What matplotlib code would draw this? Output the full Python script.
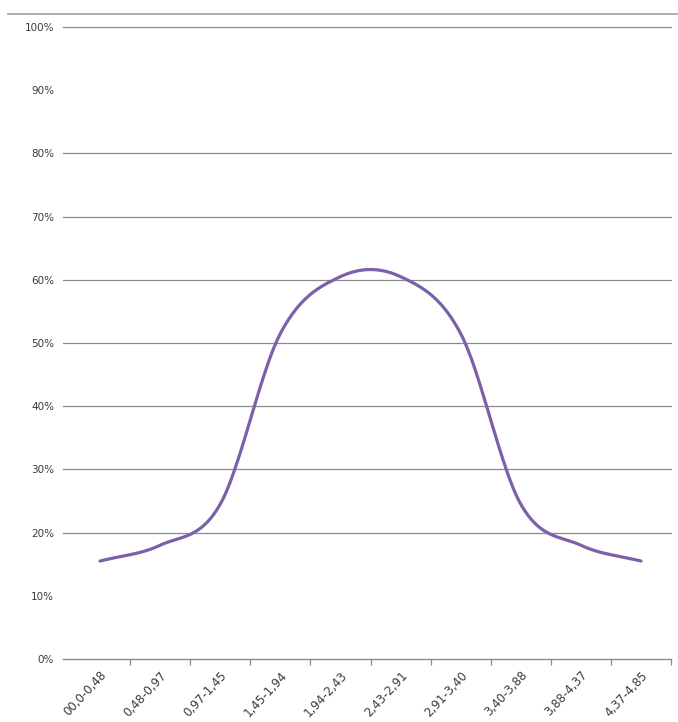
import numpy as np
import matplotlib
matplotlib.use("Agg")
import matplotlib.pyplot as plt
from matplotlib.lines import Line2D

# Share of observations per diameter class
categories = ["00,0-0,48", "0,48-0,97", "0,97-1,45", "1,45-1,94", "1,94-2,43",
              "2,43-2,91", "2,91-3,40", "3,40-3,88", "3,88-4,37", "4,37-4,85"]
values = [15.5, 18.0, 24.5, 51.5, 60.5, 60.5, 51.5, 24.5, 18.0, 15.5]
y_ticks = [0, 10, 20, 30, 40, 50, 60, 70, 80, 90, 100]
y_labels = [f"{v}%" for v in y_ticks]
grid_levels = [20, 30, 40, 50, 60, 70, 80, 100]

LINE_COLOR = "#7b61a8"
GRID_COLOR = "#8a8a8a"
TEXT_COLOR = "#3a3a3a"


def smooth_curve(xs, ys, n=40):
    """Catmull-Rom smoothing through every point (spreadsheet-style smoothed line)."""
    xs = np.asarray(xs, float)
    ys = np.asarray(ys, float)
    px = np.concatenate([[2 * xs[0] - xs[1]], xs, [2 * xs[-1] - xs[-2]]])
    py = np.concatenate([[2 * ys[0] - ys[1]], ys, [2 * ys[-1] - ys[-2]]])
    out_x, out_y = [], []
    for i in range(1, len(px) - 2):
        t = np.linspace(0, 1, n, endpoint=(i == len(px) - 3))
        for arr, out in ((px, out_x), (py, out_y)):
            p0, p1, p2, p3 = arr[i - 1], arr[i], arr[i + 1], arr[i + 2]
            c1 = p1 + (p2 - p0) / 6
            c2 = p2 - (p3 - p1) / 6
            out.extend((1 - t) ** 3 * p1 + 3 * (1 - t) ** 2 * t * c1
                       + 3 * (1 - t) * t ** 2 * c2 + t ** 3 * p2)
    return np.array(out_x), np.array(out_y)


fig = plt.figure(figsize=(6.78, 7.22), dpi=100)
ax = fig.add_axes([63 / 678, 1 - 659 / 722, (671 - 63) / 678, (659 - 27) / 722])

x = np.arange(len(categories))
sx, sy = smooth_curve(x, values)
ax.plot(sx, sy, color=LINE_COLOR, lw=2.3, solid_capstyle="round", zorder=3)

for g in grid_levels:
    ax.axhline(g, color=GRID_COLOR, lw=0.9, zorder=1, clip_on=False)
ax.axhline(0, color=GRID_COLOR, lw=1.0, zorder=1, clip_on=False)

ax.set_xlim(-0.5 - 7 / 60.1, len(categories) - 0.5)
ax.set_ylim(0, 100)

for s in ax.spines.values():
    s.set_visible(False)

ax.set_yticks(y_ticks)
ax.set_yticklabels(y_labels)
ax.tick_params(axis="y", length=0, pad=6.5, labelsize=7.5, labelcolor=TEXT_COLOR)

ax.set_xticks(x)
ax.set_xticklabels(categories, rotation=47, ha="right", va="top",
                   rotation_mode="anchor")
ax.tick_params(axis="x", which="major", length=0, pad=7, labelsize=8.5,
               labelcolor=TEXT_COLOR)
ax.set_xticks(np.arange(0.5, len(categories), 1.0), minor=True)
ax.tick_params(axis="x", which="minor", length=4, width=0.9, color=GRID_COLOR)

# Thin frame line across the top of the chart area
fig.add_artist(Line2D([8 / 678, 1.0], [1 - 14 / 722, 1 - 14 / 722],
                      color="#a0a0a0", lw=1.2, transform=fig.transFigure))

fig.savefig("out.png", dpi=100, facecolor="white")
